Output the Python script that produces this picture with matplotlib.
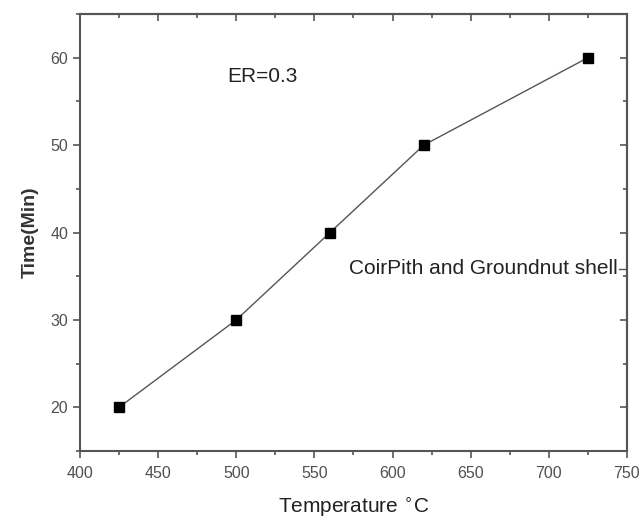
import matplotlib.pyplot as plt
from matplotlib.ticker import MultipleLocator

plt.rcParams['font.family'] = ['Liberation Sans', 'DejaVu Sans']

# data
temperature = [425, 500, 560, 620, 725]
time_min = [20, 30, 40, 50, 60]

fig = plt.figure(figsize=(6.43, 5.19), dpi=100)
ax = fig.add_axes([0.1244, 0.131, 0.8506, 0.842])

ax.plot(temperature, time_min, color='#555555', lw=1.0, marker='s',
        markersize=7, markerfacecolor='black', markeredgecolor='black')

ax.set_xlim(400, 750)
ax.set_ylim(15, 65)
ax.xaxis.set_major_locator(MultipleLocator(50))
ax.xaxis.set_minor_locator(MultipleLocator(25))
ax.yaxis.set_minor_locator(MultipleLocator(5))
ax.set_yticks([20, 30, 40, 50, 60])

for s in ax.spines.values():
    s.set_color('#555555')
    s.set_linewidth(1.5)

ax.tick_params(which='both', direction='out', colors='#555555',
               labelcolor='#505050', labelsize=11.5, width=1.2)
ax.tick_params(which='major', length=5)
ax.tick_params(which='minor', length=3)
ax.tick_params(axis='x', pad=6)

# mirrored inward ticks on top and right (no labels)
top = ax.secondary_xaxis('top')
top.set_xticks(ax.get_xticks())
top.xaxis.set_minor_locator(MultipleLocator(25))
top.tick_params(which='both', direction='in', colors='#555555', labeltop=False, width=1.2)
top.tick_params(which='major', length=5)
top.tick_params(which='minor', length=3)
top.spines['top'].set_color('#555555')
top.spines['top'].set_linewidth(1.5)
right = ax.secondary_yaxis('right')
right.set_yticks([20, 30, 40, 50, 60])
right.yaxis.set_minor_locator(MultipleLocator(5))
right.tick_params(which='both', direction='in', colors='#555555', labelright=False, width=1.2)
right.tick_params(which='major', length=5)
right.tick_params(which='minor', length=3)
right.spines['right'].set_color('#555555')
right.spines['right'].set_linewidth(1.5)

ax.set_xlabel('Temperature $^{\\circ}$C', fontsize=15, color='#222222', labelpad=10)
ax.set_ylabel('Time(Min)', fontsize=14, color='#333333', fontweight='bold', labelpad=8)

ax.text(494.5, 57.9, 'ER=0.3', fontsize=15, color='#222222', va='center')
ax.text(0.983, 0.417, 'CoirPith and Groundnut shell', transform=ax.transAxes,
        fontsize=15, color='#222222', ha='right', va='center')
ax.plot([0.985, 1.0], [0.417, 0.417], transform=ax.transAxes, color='#555555', lw=1.0)

fig.savefig('out.png', dpi=100)
